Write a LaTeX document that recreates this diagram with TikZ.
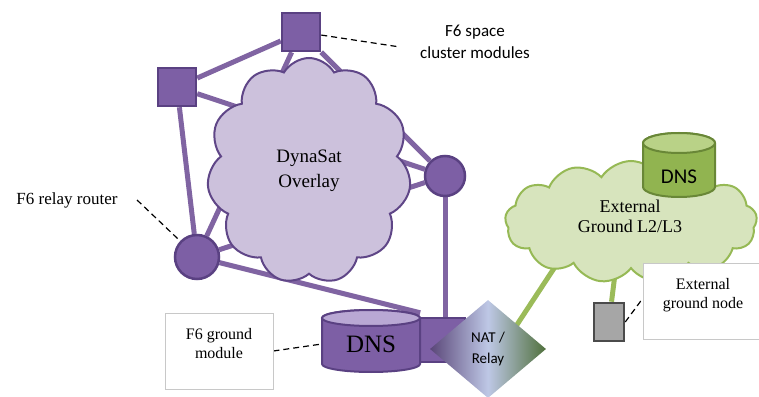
\documentclass[tikz,border=0pt]{standalone}
\usepackage{fontspec}
\setmainfont{Liberation Serif}
\newfontfamily\serf{Liberation Serif}
\newfontfamily\calib{Carlito}
\usetikzlibrary{shapes.geometric,shapes.symbols,backgrounds}
\definecolor{pline}{RGB}{128,100,162}
\definecolor{pfill}{RGB}{125,95,165}
\definecolor{pborder}{RGB}{90,65,130}
\definecolor{ptop}{RGB}{185,168,212}
\definecolor{cloudfill}{RGB}{204,193,220}
\definecolor{cloudborder}{RGB}{95,70,135}
\definecolor{gline}{RGB}{155,187,89}
\definecolor{gcloudfill}{RGB}{215,228,189}
\definecolor{gcloudborder}{RGB}{150,185,85}
\definecolor{gfill}{RGB}{145,180,80}
\definecolor{gborder}{RGB}{105,135,55}
\definecolor{gtop}{RGB}{185,210,135}
\definecolor{greyfill}{RGB}{166,166,166}
\definecolor{greyborder}{RGB}{75,75,75}
\definecolor{boxborder}{RGB}{200,200,200}
\definecolor{natleft}{RGB}{90,70,120}
\definecolor{natmid}{RGB}{190,200,230}
\definecolor{natright}{RGB}{80,112,60}
\begin{document}
\begin{tikzpicture}[x=1pt,y=1pt,
  plink/.style={draw=pline,line width=5pt},
  glink/.style={draw=gline,line width=5pt},
  leader/.style={draw=black,line width=1.2pt,dash pattern=on 6pt off 4pt},
  psquare/.style={rectangle,fill=pfill,draw=pborder,line width=2.5pt,minimum size=38pt,inner sep=0pt},
  pcircle/.style={circle,fill=pfill,draw=pborder,line width=2.5pt,inner sep=0pt},
  labelbox/.style={rectangle,fill=white,draw=boxborder,line width=0.8pt,inner sep=0pt},
  serifl/.style={font=\serf\fontsize{16}{19}\selectfont,align=center},
  sansl/.style={font=\calib\fontsize{17}{22}\selectfont,align=center}]
\useasboundingbox (0,0) rectangle (759,396);

% clouds
\node[cloud,cloud puffs=11,cloud puff arc=120,cloud ignores aspect,
  minimum width=204pt,minimum height=226pt,fill=cloudfill,draw=cloudborder,line width=2pt,
  font=\serf\fontsize{19}{25}\selectfont,align=center] (dyn) at (309,225) {DynaSat\\Overlay};

% purple modules
\node[psquare] (TS) at (301,364) {};
\node[psquare] (LS) at (177,309) {};
\node[pcircle,minimum size=40pt] (RC) at (445,220) {};
\node[pcircle,minimum size=44pt] (RR) at (197,139) {};

% ground module
\node[rectangle,fill=pfill,draw=pborder,line width=2pt,minimum width=50pt,minimum height=44pt] (dnsx) at (440,56) {};
\path[fill=pfill,draw=pborder,line width=2pt] (322,78) -- (322,32)
  arc[start angle=180,end angle=360,x radius=49,y radius=8] -- (420,78)
  arc[start angle=0,end angle=180,x radius=49,y radius=8] -- cycle;
\path[fill=ptop,draw=pborder,line width=2pt] (371,78) ellipse[x radius=49,y radius=8];
\node[minimum width=98pt,minimum height=62pt,inner sep=0pt,font=\serf\fontsize{25}{28}\selectfont] (dnsP) at (371,52) {DNS};

\node[diamond,minimum width=116pt,minimum height=98pt,inner sep=0pt,
  left color=natleft,right color=natright,middle color=natmid,
  font=\calib\fontsize{15}{20}\selectfont,align=center] (NAT) at (488,47) {NAT /\\Relay};

% external ground
\node[cloud,cloud puffs=13,cloud puff arc=115,cloud ignores aspect,
  minimum width=252pt,minimum height=122pt,fill=gcloudfill,draw=gcloudborder,line width=2pt] (gcl) at (631,174) {};
\node[align=center,font=\serf\fontsize{18}{20}\selectfont] (gcltext) at (630,180) {External\\Ground L2/L3};
\path[fill=gfill,draw=gborder,line width=2pt] (643,253) -- (643,209)
  arc[start angle=180,end angle=360,x radius=36,y radius=10] -- (715,253)
  arc[start angle=0,end angle=180,x radius=36,y radius=10] -- cycle;
\path[fill=gtop,draw=gborder,line width=2pt] (679,253) ellipse[x radius=36,y radius=10];
\node[font=\calib\fontsize{21}{24}\selectfont] (gdns) at (679,219) {DNS};

\node[rectangle,fill=greyfill,draw=greyborder,line width=2.5pt,minimum width=30pt,minimum height=38pt,inner sep=0pt] (GS) at (609,74) {};

% label boxes and texts
\node[labelbox,minimum width=108pt,minimum height=76pt] (fgbox) at (219,45) {};
\node[serifl] (fgtext) at (219,52) {F6 ground\\module};
\node[labelbox,minimum width=119pt,minimum height=76pt] (egbox) at (702.5,95) {};
\node[serifl] (egtext) at (703,101) {External\\ground node};
\node[serifl,font=\serf\fontsize{17}{20}\selectfont] (rrtext) at (67,196) {F6 relay router};
\node[sansl] (sctext) at (475,354) {F6 space\\cluster modules};

\coordinate (rrl) at (137,196);
\coordinate (scl) at (400,349);
\coordinate (egl) at (643,98);
\coordinate (g1) at (570,152);
\coordinate (g2) at (618,146);

\begin{scope}[on background layer]
  \draw[plink] (TS) -- (LS);
  \draw[plink] (TS) -- (RR);
  \draw[plink] (TS) -- (RC);
  \draw[plink] (LS) -- (RR);
  \draw[plink] (LS) -- (RC);
  \draw[plink] (RR) -- (RC);
  \draw[plink] (RR) -- (dnsP.north east);
  \draw[plink] (RC) -- (RC |- dnsx.north);
  \draw[glink] (g1) -- ([xshift=13pt]NAT.center);
  \draw[glink] (g2) -- (GS);
  \draw[leader] (rrl) -- (RR);
  \draw[leader] (TS) -- (scl);
  \draw[leader] (fgbox.east) -- (dnsP.west);
  \draw[leader] (GS.east) -- (egl);
\end{scope}
\end{tikzpicture}
\end{document}
